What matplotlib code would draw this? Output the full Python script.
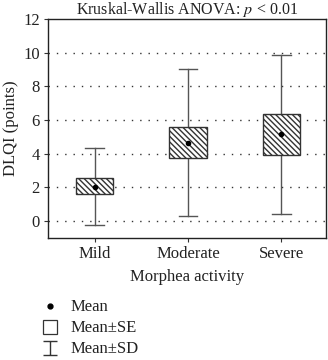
import numpy as np
import matplotlib.pyplot as plt
from matplotlib.patches import Rectangle
from matplotlib.lines import Line2D
from matplotlib.path import Path

plt.rcParams['font.family'] = ['Liberation Serif', 'DejaVu Serif']
plt.rcParams['mathtext.fontset'] = 'stix'
plt.rcParams['hatch.linewidth'] = 1.0
plt.rcParams['hatch.color'] = '#333333'

# data
groups = ['Mild', 'Moderate', 'Severe']
mean = [2.05, 4.65, 5.15]
se_low = [1.6, 3.75, 3.95]
se_high = [2.55, 5.6, 6.35]
sd_low = [-0.2, 0.3, 0.45]
sd_high = [4.35, 9.05, 9.85]

fig = plt.figure(figsize=(3.28, 3.60), dpi=100)
ax = fig.add_axes([48 / 328, 1 - 238 / 360, 278 / 328, 219 / 360])

x = np.arange(len(groups))
box_w = 0.4
cap_w = 0.2
lc = '#333333'
wc = '#555555'

for i in x:
    # whiskers (mean +/- SD)
    ax.plot([i, i], [sd_low[i], se_low[i]], color=wc, lw=1.0, zorder=2)
    ax.plot([i, i], [se_high[i], sd_high[i]], color=wc, lw=1.0, zorder=2)
    ax.plot([i - cap_w / 2, i + cap_w / 2], [sd_low[i]] * 2, color=wc, lw=1.0, zorder=2)
    ax.plot([i - cap_w / 2, i + cap_w / 2], [sd_high[i]] * 2, color=wc, lw=1.0, zorder=2)
    # box (mean +/- SE)
    ax.add_patch(Rectangle((i - box_w / 2, se_low[i]), box_w, se_high[i] - se_low[i],
                           facecolor='white', edgecolor=lc, hatch='\\\\\\\\\\\\', lw=1.0, zorder=3))
    ax.plot(i, mean[i], 'o', color='black', ms=3, zorder=4)

ax.set_xlim(-0.5, 2.48)
ax.set_ylim(-1, 12)
ax.set_yticks(range(0, 13, 2))
ax.set_xticks(x)
ax.set_xticklabels(groups)
for yv in range(0, 11, 2):
    ax.axhline(yv, color='#333333', ls=(0, (1, 5)), lw=1.0, zorder=1)

ax.tick_params(direction='out', length=3, width=0.8, labelsize=12, colors='#333333')
ax.tick_params(axis='x', pad=3)
ax.tick_params(axis='y', pad=3)
ax.tick_params(labelcolor='#222222')
for s in ax.spines.values():
    s.set_linewidth(1.0)
    s.set_color('#222222')

ax.set_ylabel('DLQI (points)', fontsize=12, color='#222222', labelpad=3)
ax.set_xlabel('Morphea activity', fontsize=12, color='#222222', labelpad=5)
ax.set_title('Kruskal-Wallis ANOVA: $\\it{p}$ < 0.01', fontsize=11.5, color='#222222', pad=3)

# legend below the plot
ibeam = Path([(-0.5, 0.5), (0.5, 0.5), (0, 0.5), (0, -0.5), (-0.5, -0.5), (0.5, -0.5)],
             [Path.MOVETO, Path.LINETO, Path.MOVETO, Path.LINETO, Path.MOVETO, Path.LINETO])
handles = [
    Line2D([], [], marker='o', ls='none', color='black', ms=3.5),
    Line2D([], [], marker='s', ls='none', mfc='white', mec='#333333', ms=10, mew=0.9),
    Line2D([], [], marker=ibeam, ls='none', color='#333333', ms=10, mew=1.0),
]
fig.legend(handles, ['Mean', 'Mean\u00b1SE', 'Mean\u00b1SD'], loc='upper left',
           bbox_to_anchor=(32 / 328, 1 - 291 / 360), frameon=False, fontsize=12,
           handletextpad=0.6, labelspacing=0.3, handlelength=1.2, labelcolor='#222222',
           borderpad=0.0)

fig.savefig('out.png', dpi=100)
